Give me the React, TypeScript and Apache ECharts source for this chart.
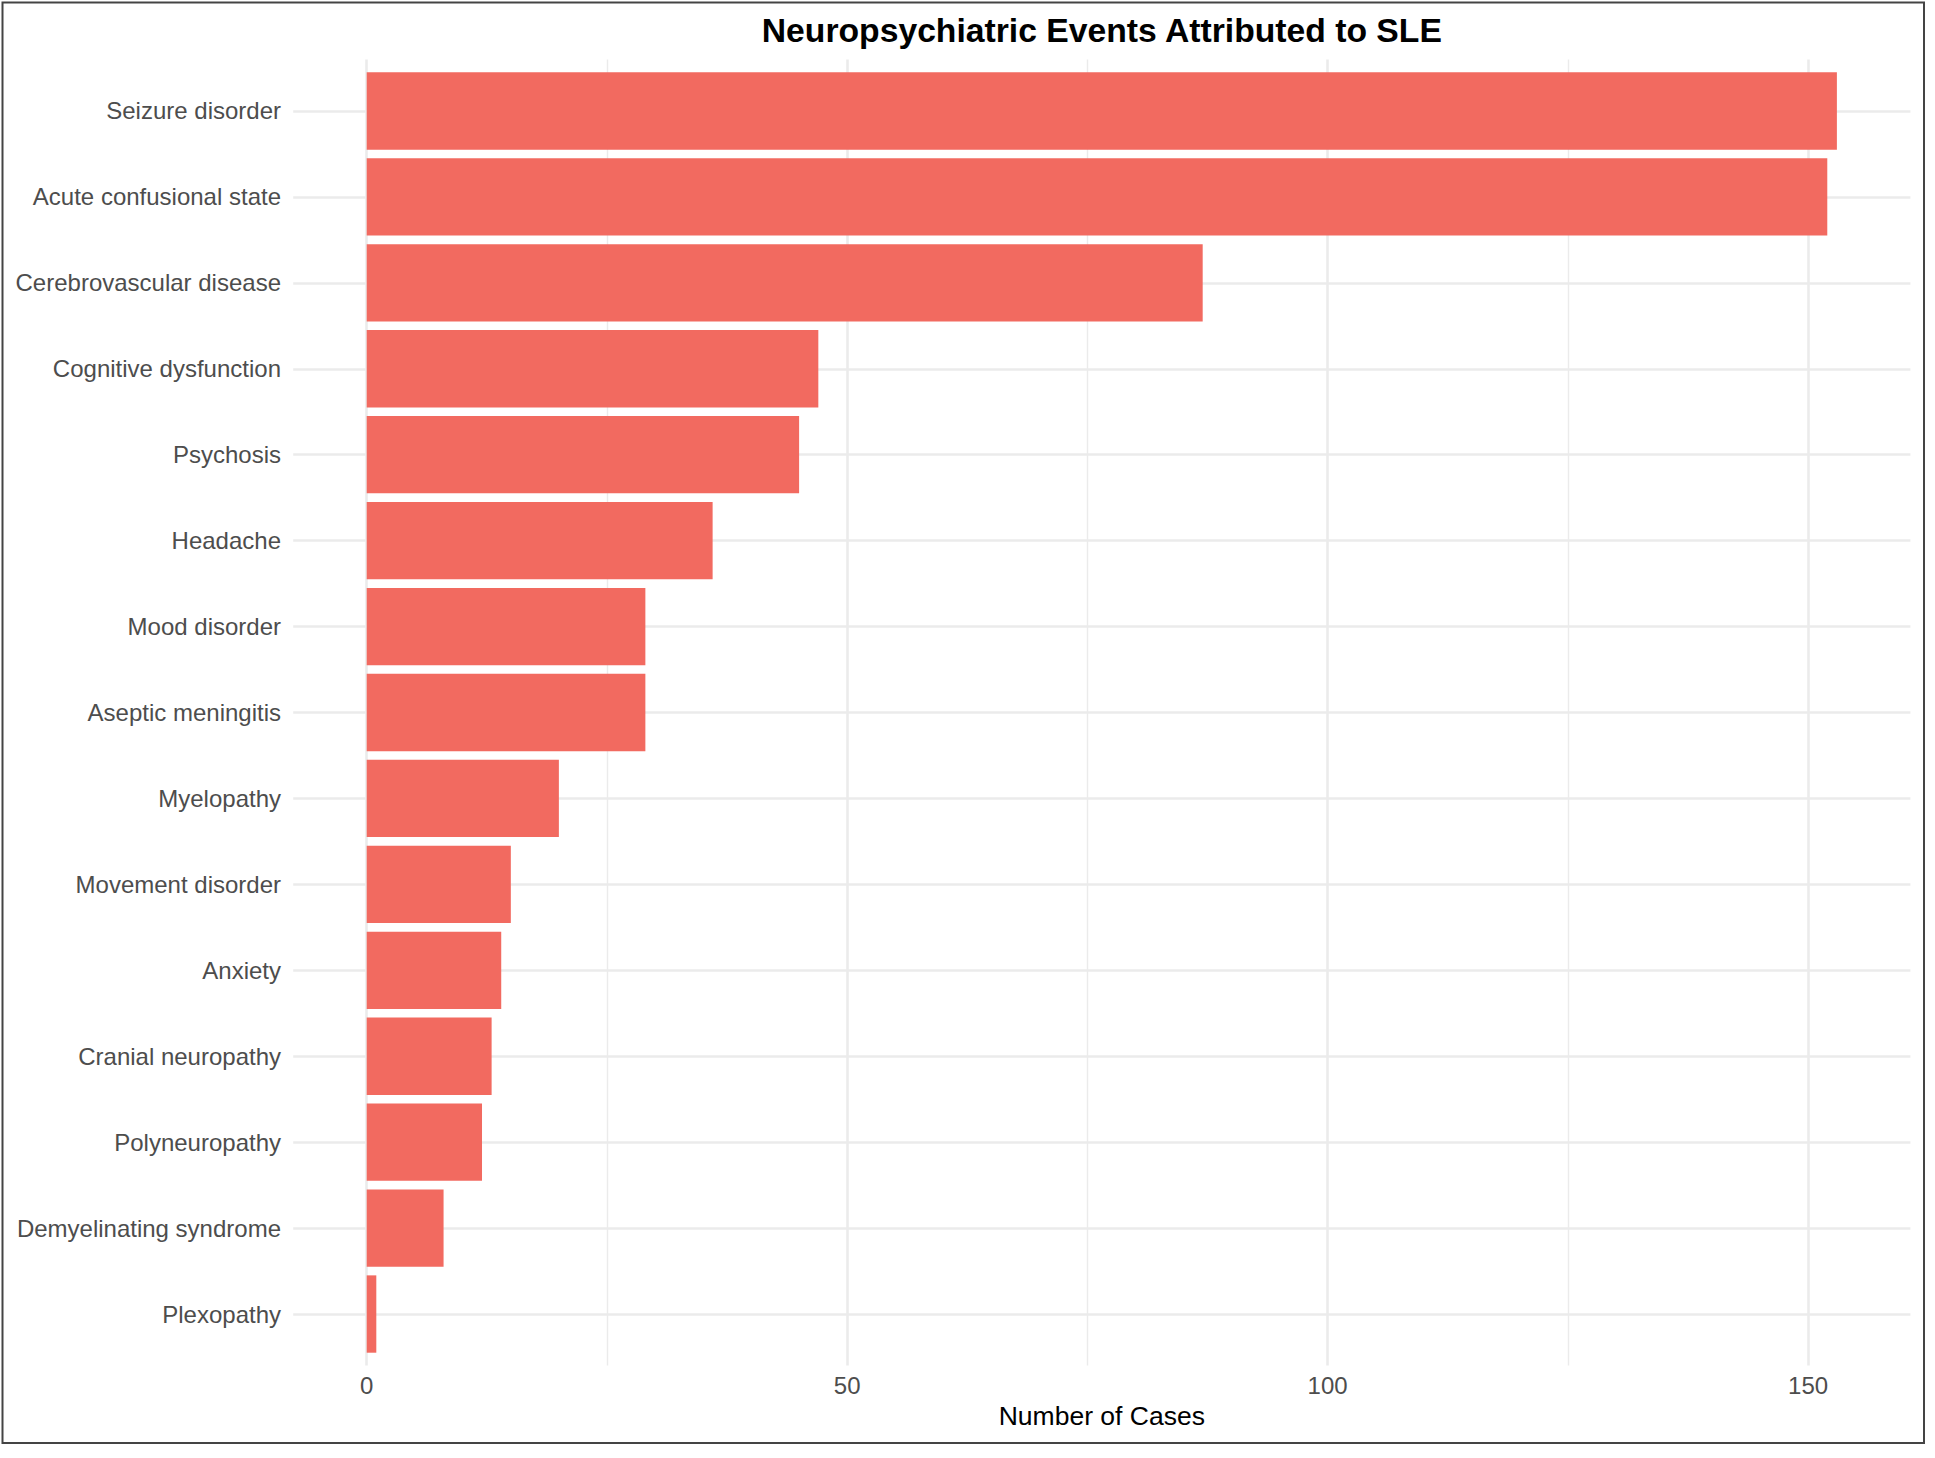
import React, { useEffect, useRef } from "react";
import * as echarts from "echarts";

// ---- Data ----
const categories: string[] = [
  "Seizure disorder",
  "Acute confusional state",
  "Cerebrovascular disease",
  "Cognitive dysfunction",
  "Psychosis",
  "Headache",
  "Mood disorder",
  "Aseptic meningitis",
  "Myelopathy",
  "Movement disorder",
  "Anxiety",
  "Cranial neuropathy",
  "Polyneuropathy",
  "Demyelinating syndrome",
  "Plexopathy",
];
const caseCounts: number[] = [153, 152, 87, 47, 45, 36, 29, 29, 20, 15, 14, 13, 12, 8, 1];
const majorTicks: number[] = [0, 50, 100, 150];
const minorTicks: number[] = [25, 75, 125];
const titleText = "Neuropsychiatric Events Attributed to SLE";
const xAxisTitle = "Number of Cases";

// ---- Layout / style constants ----
const W = 1935;
const H = 1458;
const FONT = "'Liberation Sans', Arial, Helvetica, sans-serif";
const BAR_COLOR = "#F26A60";
const GRID_COLOR = "#EBEBEB";
const TEXT_GRAY = "#4D4D4D";

const GRID_LEFT = 366.7;
const GRID_RIGHT_EDGE = 1910.4;
const GRID_TOP = 68;
const GRID_HEIGHT = 1289;
const EXT_V = 8.6; // vertical gridline extension beyond bands
const PANEL_LEFT = 293.2;
const LABEL_FONT = 24;

export default function App() {
  const ref = useRef<HTMLDivElement | null>(null);

  useEffect(() => {
    if (!ref.current) return;
    const chart = echarts.init(ref.current, undefined, { renderer: "svg" });
    const xMax = Math.max(...caseCounts) * 1.05;
    const gridWidth = GRID_RIGHT_EDGE - GRID_LEFT;
    const panelCenter = (PANEL_LEFT + GRID_RIGHT_EDGE) / 2;

    chart.setOption({
      animation: false,
      backgroundColor: "#FFFFFF",
      textStyle: { fontFamily: FONT },
      title: [
        {
          text: titleText,
          left: panelCenter,
          top: 13,
          textAlign: "center",
          padding: 0,
          textStyle: { fontFamily: FONT, fontSize: 33.7, fontWeight: "bold", color: "#000000" },
        },
        {
          text: xAxisTitle,
          left: panelCenter,
          top: 1402,
          textAlign: "center",
          padding: 0,
          textStyle: { fontFamily: FONT, fontSize: 26.5, fontWeight: "normal", color: "#000000" },
        },
      ],
      grid: {
        left: GRID_LEFT,
        top: GRID_TOP,
        width: gridWidth,
        height: GRID_HEIGHT,
        containLabel: false,
      },
      xAxis: [
        {
          type: "value",
          position: "bottom",
          min: 0,
          max: xMax,
          interval: 50,
          offset: EXT_V,
          axisLine: { show: false },
          splitLine: { show: false },
          axisTick: {
            show: true,
            inside: true,
            length: GRID_HEIGHT + 2 * EXT_V,
            customValues: majorTicks,
            lineStyle: { color: GRID_COLOR, width: 2.6 },
          },
          axisLabel: {
            show: true,
            customValues: majorTicks,
            color: TEXT_GRAY,
            fontSize: LABEL_FONT,
            fontFamily: FONT,
            margin: 8,
          },
        },
        {
          type: "value",
          position: "top",
          min: 0,
          max: xMax,
          interval: 25,
          offset: EXT_V,
          axisLine: { show: false },
          splitLine: { show: false },
          axisLabel: { show: false },
          axisTick: {
            show: true,
            inside: true,
            length: GRID_HEIGHT + 2 * EXT_V,
            customValues: minorTicks,
            lineStyle: { color: GRID_COLOR, width: 1.4 },
          },
        },
      ],
      yAxis: [
        {
          type: "category",
          position: "left",
          inverse: true,
          data: categories,
          boundaryGap: true,
          axisLine: { show: false },
          splitLine: { show: false },
          axisTick: {
            show: true,
            inside: false,
            interval: 0,
            alignWithLabel: true,
            length: GRID_LEFT - PANEL_LEFT,
            lineStyle: { color: GRID_COLOR, width: 2.6 },
          },
          axisLabel: {
            show: true,
            interval: 0,
            color: TEXT_GRAY,
            fontSize: LABEL_FONT,
            fontFamily: FONT,
            margin: GRID_LEFT - 281,
            padding: [9, 0, 0, 0],
          },
        },
      ],
      series: [
        {
          type: "bar",
          xAxisIndex: 0,
          yAxisIndex: 0,
          data: caseCounts,
          barCategoryGap: "10%",
          itemStyle: { color: BAR_COLOR },
          z: 2,
          silent: true,
          markLine: {
            silent: true,
            z: 1,
            symbol: ["none", "none"],
            label: { show: false },
            lineStyle: { color: GRID_COLOR, width: 2.6, type: "solid" },
            emphasis: { disabled: true },
            data: categories.map((c) => ({ yAxis: c })),
          },
        },
      ],
      graphic: [
        {
          type: "rect",
          shape: { x: 2.5, y: 2.5, width: 1921.5, height: 1440.5 },
          style: { fill: "none", stroke: "#444444", lineWidth: 2 },
          silent: true,
          z: 100,
        },
      ],
    });

    return () => {
      chart.dispose();
    };
  }, []);

  return (
    <div
      ref={ref}
      style={{ position: "absolute", left: 0, top: 0, width: W, height: H }}
    />
  );
}
